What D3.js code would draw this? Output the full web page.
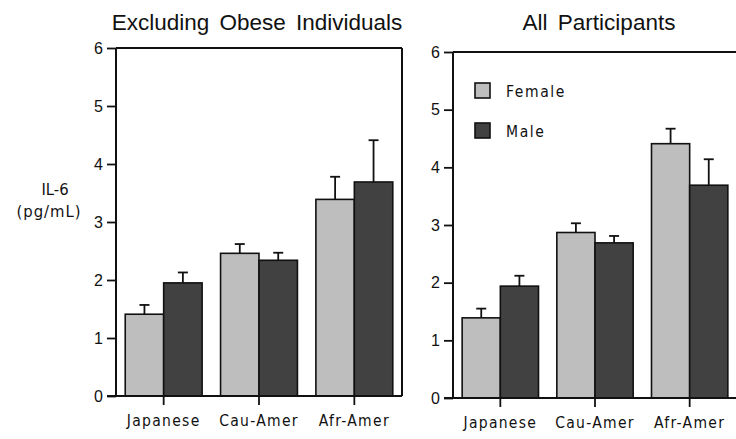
<!DOCTYPE html>
<meta charset="utf-8" />
<head>
  <style>
    body { margin: 0; background: #fff; }
    svg text { font-family: "DejaVu Sans Condensed", "DejaVu Sans", sans-serif; fill: #111; }
    .tick text { font-size: 16px; font-family: "Liberation Sans", sans-serif; }
    .cat text { font-size: 15.5px; letter-spacing: 1.3px; font-family: "DejaVu Sans Condensed", sans-serif; }
    .title { font-family: "Liberation Sans", sans-serif; font-size: 22.5px; word-spacing: 4px; }
  </style>
</head>
<script src="https://d3js.org/d3.v7.min.js"></script>
<body>
  <script>
    // categories and values
    const races = ["Japanese", "Cau-Amer", "Afr-Amer"];
    const sexes = ["Female", "Male"];
    const yTicks = [0, 1, 2, 3, 4, 5, 6];

    // excluding obese individuals
    const exclFemale = [1.41, 2.46, 3.39];
    const exclFemaleSE = [0.16, 0.16, 0.39];
    const exclMale = [1.95, 2.34, 3.69];
    const exclMaleSE = [0.18, 0.13, 0.72];

    // all participants
    const allFemale = [1.39, 2.87, 4.41];
    const allFemaleSE = [0.16, 0.16, 0.26];
    const allMale = [1.94, 2.69, 3.69];
    const allMaleSE = [0.18, 0.12, 0.45];

    const colors = { Female: "#bebebe", Male: "#414141" };

    const svg = d3.select("body").append("svg")
      .attr("width", 736).attr("height", 439);

    function drawPanel(p) {
      const y = d3.scaleLinear().domain([0, 6]).range([p.bottom, p.top]);
      const x0 = d3.scaleBand().domain(races).range([p.left, p.right]);
      const x1 = d3.scaleBand().domain(sexes).range([0, x0.bandwidth()]).paddingOuter(0.24);

      const g = svg.append("g");

      // rows: one per race/sex
      const rows = [];
      races.forEach((r, i) => {
        rows.push({ race: r, sex: "Female", v: p.female[i], se: p.femaleSE[i] });
        rows.push({ race: r, sex: "Male", v: p.male[i], se: p.maleSE[i] });
      });

      const cx = d => x0(d.race) + x1(d.sex) + x1.bandwidth() / 2;

      // error bars (drawn first so bar outline sits on top)
      const eb = g.selectAll(".err").data(rows).join("g").attr("class", "err")
        .attr("stroke", "#111").attr("stroke-width", 1.8);
      eb.append("line")
        .attr("x1", cx).attr("x2", cx)
        .attr("y1", d => y(d.v)).attr("y2", d => y(d.v + d.se));
      eb.append("line")
        .attr("x1", d => cx(d) - 5).attr("x2", d => cx(d) + 5)
        .attr("y1", d => y(d.v + d.se)).attr("y2", d => y(d.v + d.se));

      g.selectAll(".bar").data(rows).join("rect").attr("class", "bar")
        .attr("x", d => x0(d.race) + x1(d.sex))
        .attr("width", x1.bandwidth())
        .attr("y", d => y(d.v))
        .attr("height", d => y(0) - y(d.v))
        .attr("fill", d => colors[d.sex])
        .attr("stroke", "#111").attr("stroke-width", 1.6);

      // y axis
      const ya = g.append("g").attr("transform", `translate(${p.left},0)`)
        .call(d3.axisLeft(y).tickValues(yTicks).tickSize(9).tickPadding(4).tickFormat(d3.format("d")));
      ya.select(".domain").remove();
      ya.selectAll(".tick line").attr("stroke", "#111").attr("stroke-width", 1.8);

      // category axis
      const xa = g.append("g").attr("class", "cat").attr("transform", `translate(0,${p.bottom})`)
        .call(d3.axisBottom(x0).tickSize(9).tickPadding(8));
      xa.select(".domain").remove();
      xa.selectAll(".tick line").attr("stroke", "#111").attr("stroke-width", 1.8);
      xa.selectAll(".tick text").attr("dy", "0.85em");

      // frame
      const frame = g.append("g").attr("stroke", "#111").attr("stroke-width", 2).attr("fill", "none");
      frame.append("line").attr("x1", p.left).attr("x2", p.left).attr("y1", p.top).attr("y2", p.bottom);
      frame.append("line").attr("x1", p.left - 9).attr("x2", p.right).attr("y1", p.bottom).attr("y2", p.bottom);
      frame.append("line").attr("x1", p.left).attr("x2", p.right).attr("y1", p.top).attr("y2", p.top);
      frame.append("line").attr("x1", p.right).attr("x2", p.right).attr("y1", p.top).attr("y2", p.bottom);

      g.append("text").attr("class", "title")
        .attr("x", (p.left + p.right) / 2 + p.titleShift).attr("y", 30)
        .attr("text-anchor", "middle").text(p.title);

      return { g, y };
    }

    drawPanel({
      left: 116, right: 402, top: 48, bottom: 396, titleShift: -2,
      title: "Excluding Obese Individuals",
      female: exclFemale, femaleSE: exclFemaleSE, male: exclMale, maleSE: exclMaleSE
    });

    const right = drawPanel({
      left: 453, right: 737, top: 52, bottom: 398, titleShift: 4,
      title: "All Participants",
      female: allFemale, femaleSE: allFemaleSE, male: allMale, maleSE: allMaleSE
    });

    // legend
    const legend = right.g.selectAll(".legend").data(sexes).join("g").attr("class", "legend")
      .attr("transform", (d, i) => `translate(475,${83 + i * 40})`);
    legend.append("rect").attr("width", 15).attr("height", 15)
      .attr("fill", d => colors[d]).attr("stroke", "#111").attr("stroke-width", 1.6);
    legend.append("text").attr("x", 31).attr("y", 14)
      .style("font-size", "15.5px").style("letter-spacing", "1.6px").text(d => d);

    // y axis title
    svg.append("text").attr("x", 55).attr("y", 195).attr("text-anchor", "middle")
      .style("font-size", "16.5px").text("IL-6");
    svg.append("text").attr("x", 49).attr("y", 217).attr("text-anchor", "middle")
      .style("font-size", "16.5px").style("letter-spacing", "1px").text("(pg/mL)");
  </script>
</body>
